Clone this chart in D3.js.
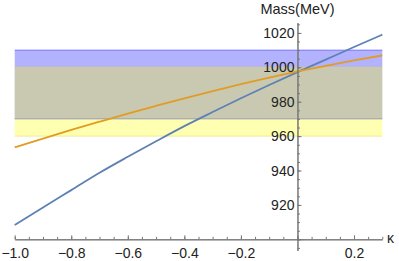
<!DOCTYPE html>
<html>
<head>
<meta charset="utf-8">
<script src="https://cdn.jsdelivr.net/npm/d3@7"></script>
<style>
  body { margin: 0; background: #fff; }
  text { font-family: "Liberation Sans", Arial, sans-serif; }
</style>
</head>
<body>
<svg id="chart" width="399" height="261"></svg>
<script>
// kappa samples and the two mass curves (MeV)
let kappa = [-1.0, -0.9, -0.8, -0.7, -0.6, -0.5, -0.4, -0.3, -0.2, -0.1, 0.0, 0.1, 0.2, 0.3];
let massBlue = [908.3, 918.5, 928.6, 938.7, 948.0, 957.0, 965.8, 974.0, 982.0, 989.7, 997.2, 1004.5, 1011.8, 1019.0];
let massOrange = [953.5, 958.6, 963.6, 968.4, 973.1, 977.6, 982.0, 986.2, 990.2, 994.0, 997.6, 1000.9, 1004.0, 1006.9];

// experimental bands
let bandBlue = [970, 1010];
let bandYellow = [960, 1000];

let xTicks = [-1.0, -0.8, -0.6, -0.4, -0.2, 0.2];
let yTicks = [920, 940, 960, 980, 1000, 1020];

let svg = d3.select("#chart");

let x = d3.scaleLinear().domain([-1, 0.3]).range([14.7, 382.3]);
let y = d3.scaleLinear().domain([893.5, 1026]).range([250.5, 22.6]);
let xAxisAt = 900;

// bands: blue underneath, yellow over it
let drawBand = (b, fill, edge) => {
    svg.append('rect')
        .attr('x', x(-1))
        .attr('y', y(b[1]))
        .attr('width', x(0.3) - x(-1))
        .attr('height', y(b[0]) - y(b[1]))
        .attr('fill', fill);
    for (let v of b){
        svg.append('line')
            .attr('x1', x(-1)).attr('x2', x(0.3))
            .attr('y1', y(v)).attr('y2', y(v))
            .attr('stroke', edge)
            .attr('stroke-width', 1);
    }
};
drawBand(bandBlue, 'rgba(0,0,255,0.3)', 'rgba(60,60,255,0.6)');
drawBand(bandYellow, 'rgba(255,255,0,0.3)', 'rgba(225,215,90,0.55)');

// curves
let line = d3.line()
    .x((d, i) => x(kappa[i]))
    .y(d => y(d))
    .curve(d3.curveMonotoneX);

svg.append('path')
    .attr('d', line(massBlue))
    .attr('fill', 'none')
    .attr('stroke', '#5E81B5')
    .attr('stroke-width', 1.8);

svg.append('path')
    .attr('d', line(massOrange))
    .attr('fill', 'none')
    .attr('stroke', '#E19C24')
    .attr('stroke-width', 1.8);

// axes
let axisColor = '#777';

let minorX = d3.range(-1, 0.3001, 0.05).map(v => +v.toFixed(2));
let minorY = d3.range(895, 1026, 5);

let gx = svg.append('g').attr('transform', 'translate(0,' + y(xAxisAt) + ')');
gx.call(d3.axisBottom(x).tickValues(minorX).tickSize(-2.5).tickSizeOuter(0).tickFormat(''));
gx.append('g').call(d3.axisBottom(x).tickValues(xTicks.concat([0])).tickSize(-4).tickSizeOuter(0).tickPadding(8.5)
    .tickFormat(d => d == 0 ? '' : d3.format('.1f')(d).replace('-', '\u2212')));

let gy = svg.append('g').attr('transform', 'translate(' + x(0) + ',0)');
gy.call(d3.axisLeft(y).tickValues(minorY).tickSize(-2.5).tickSizeOuter(0).tickFormat(''));
gy.append('g').call(d3.axisLeft(y).tickValues(yTicks.concat([900])).tickSize(-4).tickSizeOuter(0).tickPadding(3)
    .tickFormat(d => d == 900 ? '' : d));

svg.selectAll('.domain, .tick line').attr('stroke', axisColor).attr('stroke-width', 1);
svg.selectAll('.tick text')
    .attr('font-family', '"Liberation Sans", Arial, sans-serif')
    .attr('font-size', 14)
    .attr('fill', '#222');

// axis labels
svg.append('text')
    .attr('x', x(0))
    .attr('y', 14)
    .attr('text-anchor', 'middle')
    .attr('font-size', 14.5)
    .attr('fill', '#222')
    .text('Mass(MeV)');

svg.append('text')
    .attr('x', 387)
    .attr('y', y(xAxisAt) + 4)
    .attr('font-size', 14)
    .attr('fill', '#222')
    .text('\u03ba');
</script>
</body>
</html>
